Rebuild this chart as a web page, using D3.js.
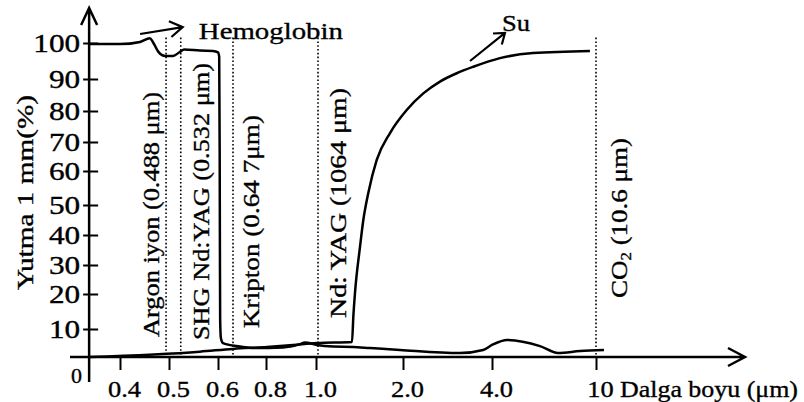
<!DOCTYPE html>
<html>
<head>
<meta charset="utf-8">
<script src="https://cdn.jsdelivr.net/npm/d3@7"></script>
<style>
body { margin: 0; background: #fff; }
svg { display: block; }
text { font-family: "Liberation Serif", "Times New Roman", Tinos, serif; fill: #000; stroke: #000; stroke-width: 0.35px; }
</style>
</head>
<body>
<svg class="abs" width="804" height="402"></svg>
<script>
// wavelength ticks (um) - axis is hand drawn, not to scale
var xTicks = [0.4, 0.5, 0.6, 0.8, 1.0, 2.0, 4.0, 10];
var xTickLabels = ["0.4", "0.5", "0.6", "0.8", "1.0", "2.0", "4.0", "10"];
var yTicks = [10, 20, 30, 40, 50, 60, 70, 80, 90, 100];

// hemoglobin absorption (%)
var hbWave = [0.337, 0.4, 0.441, 0.461, 0.467, 0.478, 0.492, 0.508, 0.522, 0.531, 0.563, 0.59, 0.6,
              0.605, 0.607, 0.608, 0.609, 0.612, 0.62, 0.633, 0.692, 0.746, 0.868, 0.936, 0.956,
              1.011, 1.195, 1.425, 1.62, 1.966, 3.28, 3.8, 4.0, 4.87, 6.77, 7.81, 9.08, 10.46];
var hbAbs  = [99.7, 99.7, 100.3, 101.3, 100.3, 97.6, 96.4, 96.4, 97.5, 98.2, 97.9, 97.8, 97.4,
              96.2, 67, 35, 12.6, 6.8, 5.0, 4.6, 3.75, 3.2, 3.4, 4.6, 5.2,
              4.3, 3.75, 3.6, 3.2, 2.5, 1.4, 2.5, 4.3, 6.1, 3.9, 1.4, 2.1, 2.5];

// water (su) absorption (%)
var suWave = [0.337, 0.563, 0.663, 0.804, 0.908, 1.011, 1.414, 1.429, 1.448, 1.506, 1.544, 1.601,
              1.698, 1.851, 2.083, 2.456, 2.831, 3.207, 3.58, 4.46, 6.37, 9.65];
var suAbs  = [0, 1.9, 2.9, 3.6, 4.3, 5.0, 5.4, 13.5, 20.3, 36.1, 45, 53.5,
              63.8, 72.9, 80.3, 85.5, 89.2, 91.6, 93.4, 95.8, 97.2, 97.8];

// laser lines
var laserNames = ["Argon iyon  (0.488 \u03bcm)", "SHG Nd:YAG (0.532 \u03bcm)", "Kripton  (0.64 7\u03bcm)",
                  "Nd: YAG  (1064 \u03bcm)", "CO2"];
var laserWave = [0.494, 0.524, 0.6625, 1.023, 10.0];

var svg = d3.select("svg.abs");

var x = d3.scaleLinear().domain(xTicks).range([120, 169, 218, 266, 316, 403, 492, 596]);
var y = d3.scaleLinear()
    .domain([0].concat(yTicks))
    .range([357, 329, 294, 265, 235, 205, 171, 142, 111, 79, 43]);

var x0 = x(0.337), y0 = y(0);

// axes
var xAxis = svg.append("g")
    .attr("transform", "translate(0," + y0 + ")")
    .call(d3.axisBottom(x).tickValues(xTicks).tickSize(13)
        .tickFormat(function(d, i) { return xTickLabels[i]; }));
xAxis.select(".domain").remove();
xAxis.selectAll(".tick line").attr("stroke", "#000").attr("stroke-width", 2);
xAxis.selectAll(".tick text")
    .attr("y", null).attr("dy", null)
    .attr("transform", "translate(4,40) scale(1.15,1)")
    .style("font-size", "23px");

var yAxis = svg.append("g")
    .attr("transform", "translate(" + x0 + ",0)")
    .call(d3.axisLeft(y).tickValues(yTicks).tickSize(6));
yAxis.select(".domain").remove();
yAxis.selectAll(".tick line").attr("x1", 9).attr("stroke", "#000").attr("stroke-width", 2);
yAxis.selectAll(".tick text")
    .attr("x", null).attr("dy", "0.35em")
    .attr("transform", "translate(-9,0) scale(1.25,1)")
    .style("font-size", "25px");

svg.append("text")
    .attr("x", 82).attr("y", 383)
    .attr("text-anchor", "end")
    .style("font-size", "22px")
    .text("0");

// axis lines with open arrow heads
svg.append("path")
    .attr("d", "M70," + y0 + "H745M728," + (y0 - 9) + "L745," + y0 + "L728," + (y0 + 9))
    .attr("fill", "none").attr("stroke", "#000").attr("stroke-width", 2.5);
svg.append("path")
    .attr("d", "M" + x0 + ",382V8M" + (x0 - 8) + ",25L" + x0 + ",8L" + (x0 + 8) + ",25")
    .attr("fill", "none").attr("stroke", "#000").attr("stroke-width", 2.5);

// laser lines
svg.selectAll(".laser")
    .data(laserWave)
    .enter().append("line")
    .attr("class", "laser")
    .attr("x1", function(d) { return x(d); })
    .attr("x2", function(d) { return x(d); })
    .attr("y1", y(101.5))
    .attr("y2", y0)
    .attr("stroke", "#000")
    .attr("stroke-width", 1.6)
    .attr("stroke-dasharray", "1.6,2.2");

// label placement: baseline offset from the line, start y, length
var labelLayout = [
    {dx: -7, sy: 337, len: 245},
    {dx: 28, sy: 340, len: 277},
    {dx: 26, sy: 328, len: 213},
    {dx: 28, sy: 318, len: 230},
    {dx: 31, sy: 298, len: 160}
];

laserNames.forEach(function(name, i) {
    var l = labelLayout[i];
    var t = svg.append("text")
        .attr("transform", "translate(" + (x(laserWave[i]) + l.dx) + "," + l.sy + ") rotate(-90)")
        .attr("textLength", l.len)
        .attr("lengthAdjust", "spacingAndGlyphs")
        .style("font-size", "24px");
    if (name === "CO2") {
        t.append("tspan").text("CO");
        t.append("tspan").attr("dy", 4).style("font-size", "15px").text("2");
        t.append("tspan").attr("dy", -4).text("  (10.6 \u03bcm)");
    } else {
        t.text(name);
    }
});

// curves
var line = d3.line()
    .curve(d3.curveMonotoneX)
    .x(function(d) { return x(d[0]); })
    .y(function(d) { return y(d[1]); });

var hb = hbWave.map(function(w, i) { return [w, hbAbs[i]]; });
var su = suWave.map(function(w, i) { return [w, suAbs[i]]; });

[hb, su].forEach(function(s) {
    svg.append("path")
        .attr("d", line(s))
        .attr("fill", "none")
        .attr("stroke", "#000")
        .attr("stroke-width", 2.5)
        .attr("stroke-linejoin", "round");
});

// annotations
function arrow(a, b, len, spread) {
    var x1 = x(a[0]), y1 = y(a[1]), x2 = x(b[0]), y2 = y(b[1]);
    var ang = Math.atan2(y2 - y1, x2 - x1) + Math.PI;
    var s = spread * Math.PI / 180;
    var d = "M" + x1 + "," + y1 + "L" + x2 + "," + y2 +
        "M" + (x2 + len * Math.cos(ang - s)) + "," + (y2 + len * Math.sin(ang - s)) +
        "L" + x2 + "," + y2 +
        "L" + (x2 + len * Math.cos(ang + s)) + "," + (y2 + len * Math.sin(ang + s));
    svg.append("path").attr("d", d)
        .attr("fill", "none").attr("stroke", "#000").attr("stroke-width", 2.2);
}

arrow([0.441, 102.5], [0.528, 104.4], 15, 32);
arrow([3.506, 95], [4.75, 102.8], 12, 36);

svg.append("text")
    .attr("x", x(0.561)).attr("y", y(101.1))
    .attr("textLength", 144).attr("lengthAdjust", "spacingAndGlyphs")
    .style("font-size", "24px")
    .text("Hemoglobin");

svg.append("text")
    .attr("x", x(4.58)).attr("y", y(103.3))
    .attr("textLength", 28).attr("lengthAdjust", "spacingAndGlyphs")
    .style("font-size", "24px")
    .text("Su");

svg.append("text")
    .attr("transform", "translate(33,290) rotate(-90)")
    .attr("textLength", 195).attr("lengthAdjust", "spacingAndGlyphs")
    .style("font-size", "24px")
    .text("Yutma 1 mm(%)");

svg.append("text")
    .attr("x", 620).attr("y", 397)
    .attr("textLength", 178).attr("lengthAdjust", "spacingAndGlyphs")
    .style("font-size", "24px")
    .text("Dalga boyu (\u03bcm)");
</script>
</body>
</html>
